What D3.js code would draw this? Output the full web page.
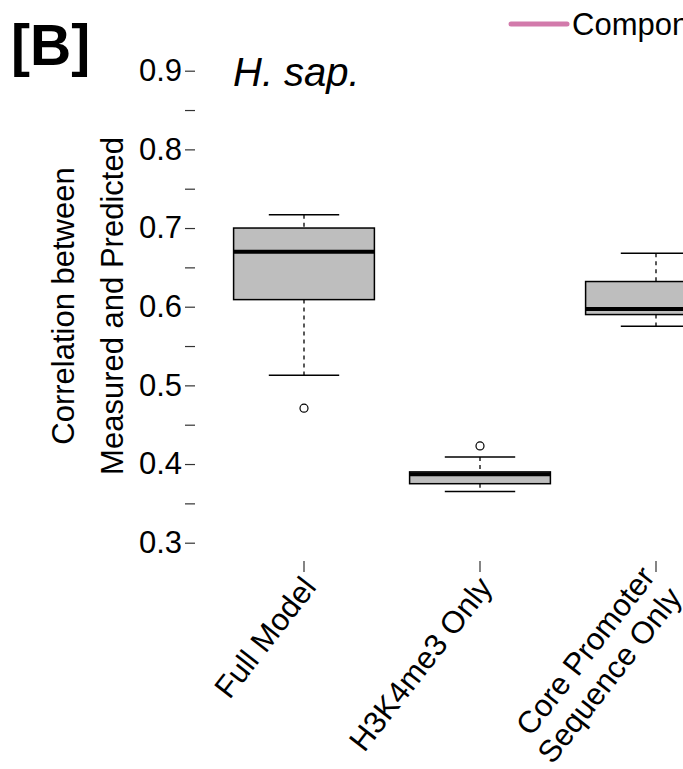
<!DOCTYPE html>
<html lang="en">
  <head>
    <meta charset="UTF-8" />
    <title>H. sap. boxplot</title>
    <script src="https://d3js.org/d3.v7.min.js"></script>
    <style>
      body {
        margin: 0;
        background: #fff;
      }
      svg {
        display: block;
        font-family: "Liberation Sans", Arial, sans-serif;
      }
      .tick line {
        stroke: #333;
        stroke-width: 1.2px;
      }
      .box {
        fill: #bebebe;
        stroke: #000;
        stroke-width: 1.5px;
      }
      .median {
        stroke: #000;
        stroke-width: 4px;
      }
      .whisker {
        stroke: #000;
        stroke-width: 1.3px;
        stroke-dasharray: 4 4;
      }
      .cap {
        stroke: #000;
        stroke-width: 1.5px;
      }
      .outlier {
        fill: none;
        stroke: #000;
        stroke-width: 1.2px;
      }
    </style>
  </head>
  <body>
    <svg width="683" height="769"></svg>
    <script>
      // values
      const categories = ["Full Model", "H3K4me3 Only", "Core Promoter\nSequence Only"];
      const lowWhisker = [0.513, 0.365, 0.575];
      const q1 = [0.609, 0.375, 0.59];
      const medians = [0.67, 0.387, 0.597];
      const q3 = [0.7, 0.39, 0.632];
      const highWhisker = [0.717, 0.409, 0.668];
      const outliers = [[0.471], [0.423], []];
      const yTicks = [0.3, 0.35, 0.4, 0.45, 0.5, 0.55, 0.6, 0.65, 0.7, 0.75, 0.8, 0.85, 0.9];
      const yLabels = ["0.3", "", "0.4", "", "0.5", "", "0.6", "", "0.7", "", "0.8", "", "0.9"];

      const svg = d3.select("svg");

      const y = d3.scaleLinear().domain([0.3, 0.9]).range([542.7, 70.7]);
      const x = d3.scaleBand().domain(categories).range([216, 744]).padding(0);
      const boxW = x.bandwidth() * 0.8;
      const cx = (c) => x(c) + x.bandwidth() / 2;

      // y axis, ticks only
      const yAxis = svg
        .append("g")
        .attr("transform", "translate(195,0)")
        .call(
          d3
            .axisLeft(y)
            .tickValues(yTicks)
            .tickSize(10)
            .tickPadding(3)
            .tickFormat((d, i) => yLabels[i])
        );
      yAxis.select(".domain").remove();
      yAxis.selectAll("text").attr("font-size", 31).attr("fill", "#000").attr("font-family", null);

      // x axis, ticks only
      const xAxis = svg
        .append("g")
        .attr("transform", "translate(0,561)")
        .call(d3.axisBottom(x).tickSize(11).tickFormat(""));
      xAxis.select(".domain").remove();

      // rotated category labels
      categories.forEach((c) => {
        const lines = c.split("\n");
        const t = svg
          .append("text")
          .attr("text-anchor", "end")
          .attr("font-size", 31)
          .attr("transform", `translate(${cx(c) + 5},${581}) rotate(-52)`);
        lines.forEach((l, i) => {
          t.append("tspan")
            .attr("x", 0)
            .attr("y", (i - (lines.length - 1) / 2) * 34)
            .attr("dy", "0.35em")
            .text(l);
        });
      });

      // boxes
      const g = svg.append("g");
      categories.forEach((c, i) => {
        const xc = cx(c);
        g.append("line")
          .attr("class", "whisker")
          .attr("x1", xc)
          .attr("x2", xc)
          .attr("y1", y(highWhisker[i]))
          .attr("y2", y(q3[i]));
        g.append("line")
          .attr("class", "whisker")
          .attr("x1", xc)
          .attr("x2", xc)
          .attr("y1", y(q1[i]))
          .attr("y2", y(lowWhisker[i]));
        [highWhisker[i], lowWhisker[i]].forEach((v) => {
          g.append("line")
            .attr("class", "cap")
            .attr("x1", xc - boxW / 4)
            .attr("x2", xc + boxW / 4)
            .attr("y1", y(v))
            .attr("y2", y(v));
        });
        g.append("rect")
          .attr("class", "box")
          .attr("x", xc - boxW / 2)
          .attr("width", boxW)
          .attr("y", y(q3[i]))
          .attr("height", y(q1[i]) - y(q3[i]));
        g.append("line")
          .attr("class", "median")
          .attr("x1", xc - boxW / 2)
          .attr("x2", xc + boxW / 2)
          .attr("y1", y(medians[i]))
          .attr("y2", y(medians[i]));
        outliers[i].forEach((v) => {
          g.append("circle").attr("class", "outlier").attr("cx", xc).attr("cy", y(v)).attr("r", 4);
        });
      });

      // axis title
      svg
        .append("text")
        .attr("transform", "translate(74,306) rotate(-90)")
        .attr("text-anchor", "middle")
        .attr("font-size", 31)
        .text("Correlation between");
      svg
        .append("text")
        .attr("transform", "translate(123,306) rotate(-90)")
        .attr("text-anchor", "middle")
        .attr("font-size", 31)
        .text("Measured and Predicted");

      // panel letter and title
      svg
        .append("text")
        .attr("x", 11)
        .attr("y", 65)
        .attr("font-size", 57)
        .attr("font-weight", "bold")
        .text("[B]");
      svg
        .append("text")
        .attr("x", 233)
        .attr("y", 86)
        .attr("font-size", 40)
        .attr("font-style", "italic")
        .text("H. sap.");

      // legend (cut off at the right edge)
      svg
        .append("line")
        .attr("x1", 511)
        .attr("x2", 567)
        .attr("y1", 24)
        .attr("y2", 24)
        .attr("stroke", "#d27aab")
        .attr("stroke-width", 5)
        .attr("stroke-linecap", "round");
      svg
        .append("text")
        .attr("x", 572)
        .attr("y", 24)
        .attr("dy", "0.35em")
        .attr("font-size", 31)
        .text("Component");
    </script>
  </body>
</html>
